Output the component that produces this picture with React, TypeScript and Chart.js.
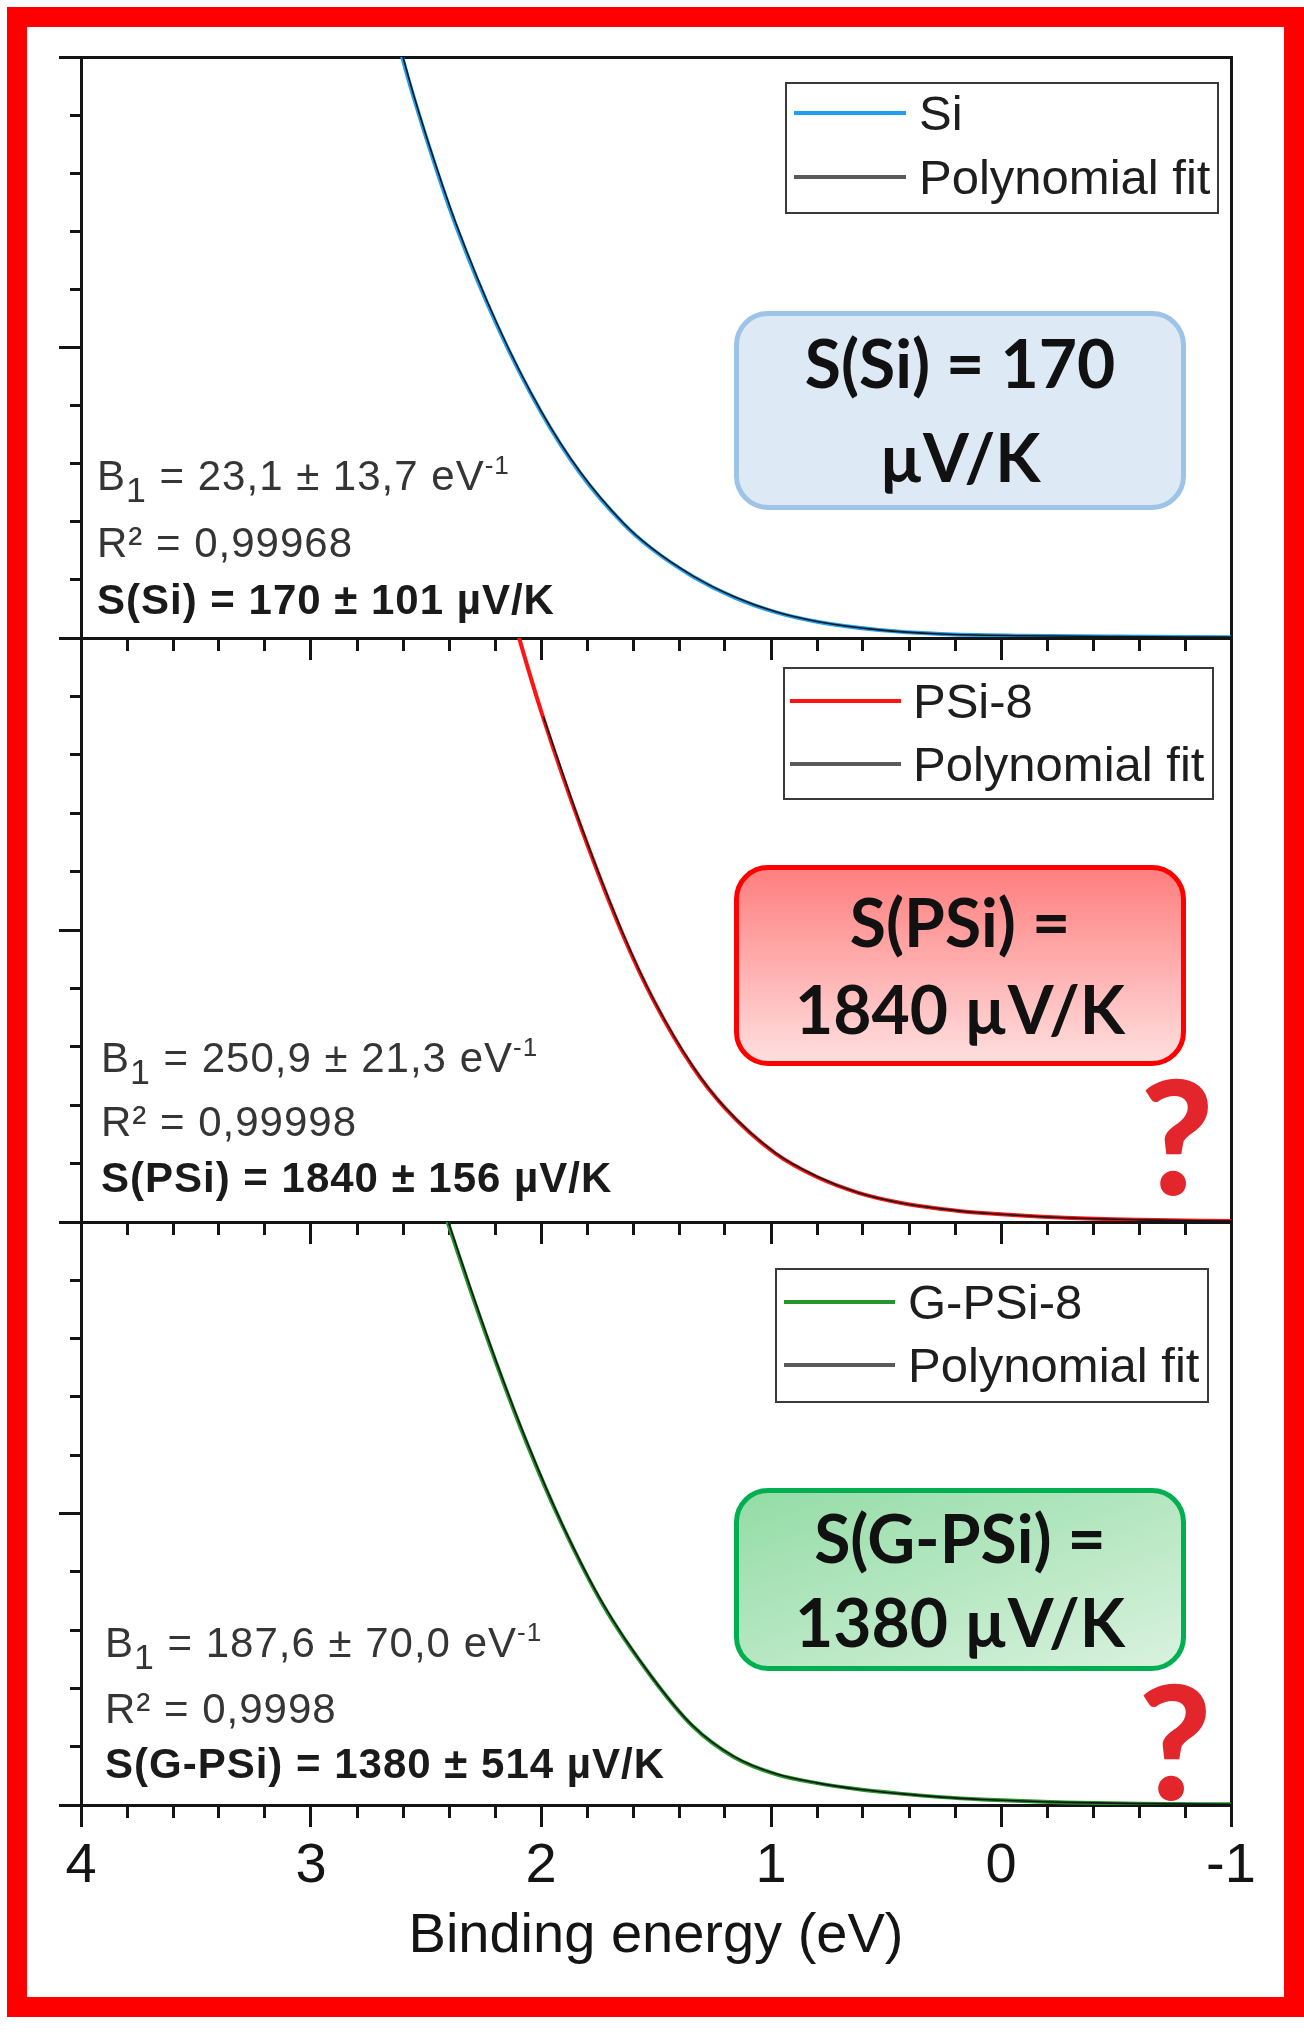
import React, { useEffect, useRef } from 'react';
import { Chart, registerables } from 'chart.js';

Chart.register(...registerables);

// ---------------- data ----------------
const xMajorTicks = [4, 3, 2, 1, 0, -1];
const xTickLabels = ['4', '3', '2', '1', '0', '-1'];
const xMinorDivisions = 5;
const yTickValues = [0, 1, 2, 3, 4, 5, 6, 7, 8, 9, 10];
const yMajorTicks = [0, 5, 10];
const xAxisTitle = 'Binding energy (eV)';

// Si (top panel)
const siEnergy = [2.70, 2.60, 2.55, 2.46, 2.37, 2.19, 2.00, 1.83, 1.64, 1.52, 1.34, 1.16, 0.98, 0.80, 0.53, 0.26, -0.10, -0.50, -1.00];
const siSignal = [11.5, 9.95, 9.26, 8.13, 7.10, 5.37, 3.89, 2.84, 1.96, 1.54, 1.06, 0.70, 0.445, 0.28, 0.138, 0.07, 0.04, 0.025, 0.015];
const siFitEnergy = [2.70, 2.60, 2.55, 2.46, 2.37, 2.19, 2.00, 1.83, 1.64, 1.52, 1.34, 1.16, 0.98, 0.80, 0.53, 0.26, -0.10, -0.50, -1.00];
const siFitSignal = [11.55, 10.0, 9.30, 8.17, 7.14, 5.40, 3.91, 2.86, 1.97, 1.55, 1.07, 0.71, 0.45, 0.285, 0.14, 0.07, 0.04, 0.025, 0.015];

// PSi-8 (middle panel)
const psiEnergy = [2.20, 2.09, 1.99, 1.82, 1.64, 1.51, 1.34, 1.20, 0.98, 0.80, 0.62, 0.44, 0.26, 0.08, -0.28, -0.60, -1.00];
const psiSignal = [11.5, 9.93, 8.63, 6.69, 4.88, 3.79, 2.65, 1.95, 1.17, 0.77, 0.50, 0.33, 0.224, 0.154, 0.072, 0.037, 0.016];
const psiFitEnergy = [1.99, 1.82, 1.64, 1.51, 1.34, 1.20, 0.98, 0.80, 0.62, 0.44, 0.26, 0.08, -0.28, -0.60, -1.00];
const psiFitSignal = [8.66, 6.72, 4.91, 3.81, 2.67, 1.96, 1.18, 0.78, 0.50, 0.33, 0.224, 0.154, 0.072, 0.037, 0.016];

// G-PSi-8 (bottom panel)
const gpsiEnergy = [2.50, 2.40, 2.31, 2.19, 2.06, 1.91, 1.73, 1.52, 1.34, 1.16, 0.98, 0.80, 0.62, 0.44, 0.26, 0.08, -0.28, -0.60, -1.00];
const gpsiSignal = [11.1, 9.93, 8.87, 7.53, 6.19, 4.82, 3.43, 2.20, 1.35, 0.82, 0.53, 0.375, 0.27, 0.195, 0.135, 0.095, 0.045, 0.023, 0.011];
const gpsiFitEnergy = [2.50, 2.40, 2.31, 2.19, 2.06, 1.91, 1.73, 1.52, 1.34, 1.16, 0.98, 0.80, 0.62, 0.44, 0.26, 0.08, -0.28, -0.60, -1.00];
const gpsiFitSignal = [11.15, 9.97, 8.91, 7.56, 6.22, 4.84, 3.45, 2.21, 1.36, 0.83, 0.535, 0.38, 0.27, 0.195, 0.135, 0.095, 0.045, 0.023, 0.011];

// text
const seriesNames = ['Si', 'PSi-8', 'G-PSi-8'];
const fitName = 'Polynomial fit';
const b1Values = ['23,1 ± 13,7', '250,9 ± 21,3', '187,6 ± 70,0'];
const r2Values = ['0,99968', '0,99998', '0,9998'];
const seebeckLines = ['S(Si) = 170 ± 101 µV/K', 'S(PSi) = 1840 ± 156 µV/K', 'S(G-PSi) = 1380 ± 514 µV/K'];
const badgeLines = [
  ['S(Si) = 170', 'µV/K'],
  ['S(PSi) =', '1840 µV/K'],
  ['S(G-PSi) =', '1380 µV/K'],
];

// ---------------- styles / layout ----------------
const FONT_SANS = "'Liberation Sans', Arial, Helvetica, sans-serif";
const FONT_BADGE = "Lato, 'Open Sans', sans-serif";
const seriesColors = ['#1f9ff0', '#ff1414', '#23952b'];
const FIT_COLOR = '#141414';

const panelLayout = [
  { canvasTop: 0, canvasHeight: 660, padTop: 57, padBottom: 22, xAxisHeight: 0, showX: false },
  { canvasTop: 628, canvasHeight: 616, padTop: 10, padBottom: 22, xAxisHeight: 0, showX: false },
  { canvasTop: 1212, canvasHeight: 763, padTop: 10, padBottom: 0, xAxisHeight: 170, showX: true },
];

const seriesData = [
  { e: siEnergy, s: siSignal, fe: siFitEnergy, fs: siFitSignal },
  { e: psiEnergy, s: psiSignal, fe: psiFitEnergy, fs: psiFitSignal },
  { e: gpsiEnergy, s: gpsiSignal, fe: gpsiFitEnergy, fs: gpsiFitSignal },
];

const statsLayout = [
  { left: 97, centers: [476, 543, 600] },
  { left: 101, centers: [1058, 1122, 1178] },
  { left: 105, centers: [1643, 1709, 1764] },
];

const legendLayout = [
  { l: 785, t: 82, r: 1219, b: 214, textLeft: 919, lineL: 794, lineR: 906, rows: [113, 177] },
  { l: 783, t: 667, r: 1214, b: 800, textLeft: 913, lineL: 790, lineR: 901, rows: [701, 764] },
  { l: 775, t: 1268, r: 1209, b: 1403, textLeft: 908, lineL: 784, lineR: 895, rows: [1302, 1365] },
];

const badgeLayout = [
  { l: 734, t: 311, r: 1186, b: 510, border: '#9dc3e6', bg: '#dde9f5', rows: [365, 459] },
  { l: 734, t: 865, r: 1186, b: 1066, border: '#ff0000', bg: 'linear-gradient(180deg, #ff7f7f 0%, #ffb3b3 55%, #ffdede 100%)', rows: [924, 1011] },
  { l: 734, t: 1488, r: 1186, b: 1671, border: '#00b050', bg: 'linear-gradient(160deg, #94dca6 0%, #b9e8c4 55%, #d9f2df 100%)', rows: [1540, 1624] },
];

const questionLayout = [
  { cx: 1177, top: 1082 },
  { cx: 1175, top: 1687 },
];

const near = (a: number, b: number) => Math.abs(a - b) < 1e-6;

function buildXTickValues(): number[] {
  const vals: number[] = [];
  for (let i = 0; i < xMajorTicks.length; i++) {
    vals.push(xMajorTicks[i]);
    if (i < xMajorTicks.length - 1) {
      const a = xMajorTicks[i];
      const b = xMajorTicks[i + 1];
      for (let k = 1; k < xMinorDivisions; k++) vals.push(a + ((b - a) * k) / xMinorDivisions);
    }
  }
  return vals;
}

function makeConfig(idx: number): any {
  const lay = panelLayout[idx];
  const d = seriesData[idx];
  const xTickValues = buildXTickValues();
  const black = '#141414';
  const borderOpts = { display: true, color: black, width: 3 };
  return {
    type: 'line',
    data: {
      datasets: [
        {
          label: fitName,
          data: d.fe.map((x, i) => ({ x, y: d.fs[i] })),
          borderColor: FIT_COLOR,
          borderWidth: 1.6,
          pointRadius: 0,
          cubicInterpolationMode: 'monotone',
          clip: 0,
        },
        {
          label: seriesNames[idx],
          data: d.e.map((x, i) => ({ x, y: d.s[i] })),
          borderColor: seriesColors[idx],
          borderWidth: 4,
          pointRadius: 0,
          cubicInterpolationMode: 'monotone',
          clip: 0,
        },
      ],
    },
    options: {
      animation: false,
      responsive: false,
      maintainAspectRatio: false,
      events: [],
      layout: { padding: { left: 81, right: 73, top: lay.padTop, bottom: lay.padBottom } },
      plugins: { legend: { display: false }, tooltip: { enabled: false }, title: { display: false } },
      scales: {
        x: {
          type: 'linear',
          position: 'bottom',
          min: -1,
          max: 4,
          reverse: true,
          afterBuildTicks: (s: any) => {
            s.ticks = xTickValues.map((v) => ({ value: v }));
          },
          afterFit: (s: any) => {
            s.height = lay.xAxisHeight;
          },
          ticks: {
            display: lay.showX,
            autoSkip: false,
            maxRotation: 0,
            minRotation: 0,
            padding: 12,
            color: black,
            font: { family: FONT_SANS, size: 56, lineHeight: 1 },
            callback: (v: number) => {
              const i = xMajorTicks.findIndex((m) => near(m, v));
              return i >= 0 ? xTickLabels[i] : '';
            },
          },
          grid: {
            drawOnChartArea: false,
            drawTicks: true,
            tickLength: 22,
            tickWidth: 3,
            lineWidth: 3,
            tickColor: black,
            tickBorderDash: (ctx: any) =>
              ctx.tick && xMajorTicks.some((m) => near(m, ctx.tick.value)) ? [] : [11, 100],
          },
          border: borderOpts,
          title: {
            display: lay.showX,
            text: xAxisTitle,
            color: black,
            font: { family: FONT_SANS, size: 56, lineHeight: 1 },
            padding: { top: 0, bottom: 10 },
          },
        },
        xTop: {
          type: 'linear',
          position: 'top',
          min: -1,
          max: 4,
          reverse: true,
          afterFit: (s: any) => {
            s.height = 0;
          },
          ticks: { display: false },
          grid: { drawOnChartArea: false, drawTicks: false, lineWidth: 3 },
          border: borderOpts,
        },
        y: {
          type: 'linear',
          position: 'left',
          min: 0,
          max: 10,
          afterBuildTicks: (s: any) => {
            s.ticks = yTickValues.map((v) => ({ value: v }));
          },
          afterFit: (s: any) => {
            s.width = 0;
          },
          ticks: { display: false },
          grid: {
            drawOnChartArea: false,
            drawTicks: true,
            tickLength: 22,
            tickWidth: 3,
            lineWidth: 3,
            tickColor: black,
            tickBorderDash: (ctx: any) =>
              ctx.tick && yMajorTicks.some((m) => near(m, ctx.tick.value)) ? [] : [0, 11, 11, 100],
          },
          border: borderOpts,
        },
        yRight: {
          type: 'linear',
          position: 'right',
          min: 0,
          max: 10,
          afterFit: (s: any) => {
            s.width = 0;
          },
          ticks: { display: false },
          grid: { drawOnChartArea: false, drawTicks: false, lineWidth: 3 },
          border: borderOpts,
        },
      },
    },
  };
}

function PanelChart({ idx }: { idx: number }) {
  const ref = useRef<HTMLCanvasElement>(null);
  const lay = panelLayout[idx];
  useEffect(() => {
    if (!ref.current) return;
    const chart = new Chart(ref.current, makeConfig(idx));
    return () => chart.destroy();
  }, [idx]);
  return (
    <canvas
      ref={ref}
      width={1304}
      height={lay.canvasHeight}
      style={{ position: 'absolute', left: 0, top: lay.canvasTop, width: 1304, height: lay.canvasHeight, display: 'block' }}
    />
  );
}

const STAT_F = 42;
function Stats({ idx }: { idx: number }) {
  const L = statsLayout[idx];
  const base: React.CSSProperties = {
    position: 'absolute',
    left: L.left,
    fontFamily: FONT_SANS,
    fontSize: STAT_F,
    lineHeight: `${STAT_F}px`,
    letterSpacing: 1,
    whiteSpace: 'nowrap',
  };
  const topFor = (c: number) => c - 0.4885 * STAT_F;
  return (
    <>
      <div style={{ ...base, top: topFor(L.centers[0]), color: '#353535' }}>
        B
        <span style={{ fontSize: '0.85em', position: 'relative', top: 12, lineHeight: 0 }}>1</span>
        {' = ' + b1Values[idx] + ' eV'}
        <span style={{ fontSize: '0.62em', position: 'relative', top: -16, lineHeight: 0 }}>-1</span>
      </div>
      <div style={{ ...base, top: topFor(L.centers[1]), color: '#353535' }}>{'R² = ' + r2Values[idx]}</div>
      <div style={{ ...base, top: topFor(L.centers[2]), color: '#1a1a1a', fontWeight: 700 }}>{seebeckLines[idx]}</div>
    </>
  );
}

const LEG_F = 49;
function Legend({ idx }: { idx: number }) {
  const L = legendLayout[idx];
  const textStyle = (c: number): React.CSSProperties => ({
    position: 'absolute',
    left: L.textLeft,
    top: c - 0.4885 * LEG_F,
    fontFamily: FONT_SANS,
    fontSize: LEG_F,
    lineHeight: `${LEG_F}px`,
    color: '#1e1e1e',
    whiteSpace: 'nowrap',
  });
  const lineStyle = (c: number, color: string): React.CSSProperties => ({
    position: 'absolute',
    left: L.lineL,
    width: L.lineR - L.lineL,
    top: c - 2,
    height: 4,
    background: color,
  });
  return (
    <>
      <div
        style={{
          position: 'absolute',
          left: L.l,
          top: L.t,
          width: L.r - L.l,
          height: L.b - L.t,
          border: '2.5px solid #3a3a3a',
          boxSizing: 'border-box',
          background: '#ffffff',
        }}
      />
      <div style={lineStyle(L.rows[0], seriesColors[idx])} />
      <div style={lineStyle(L.rows[1], '#5a5a5a')} />
      <div style={textStyle(L.rows[0])}>{seriesNames[idx]}</div>
      <div style={textStyle(L.rows[1])}>{fitName}</div>
    </>
  );
}

const BADGE_F = 66;
function Badge({ idx }: { idx: number }) {
  const B = badgeLayout[idx];
  const lineStyle = (c: number): React.CSSProperties => ({
    position: 'absolute',
    left: B.l,
    width: B.r - B.l,
    top: c - 0.529 * BADGE_F,
    textAlign: 'center',
    fontFamily: FONT_BADGE,
    fontWeight: 700,
    fontSize: BADGE_F,
    lineHeight: `${BADGE_F}px`,
    color: '#111111',
    whiteSpace: 'nowrap',
  });
  return (
    <>
      <div
        style={{
          position: 'absolute',
          left: B.l,
          top: B.t,
          width: B.r - B.l,
          height: B.b - B.t,
          border: `5px solid ${B.border}`,
          borderRadius: 34,
          background: B.bg,
          boxSizing: 'border-box',
        }}
      />
      <div style={lineStyle(B.rows[0])}>{badgeLines[idx][0]}</div>
      <div style={lineStyle(B.rows[1])}>{badgeLines[idx][1]}</div>
    </>
  );
}

const Q_F = 158;
function Question({ i }: { i: number }) {
  const Q = questionLayout[i];
  return (
    <div
      style={{
        position: 'absolute',
        left: Q.cx - 60,
        width: 120,
        top: Q.top - 0.1705 * Q_F,
        textAlign: 'center',
        fontFamily: FONT_BADGE,
        fontWeight: 900,
        fontSize: Q_F,
        lineHeight: `${Q_F}px`,
        color: '#e3262b',
      }}
    >
      ?
    </div>
  );
}

export default function App() {
  return (
    <div style={{ position: 'absolute', left: 0, top: 0, width: 1304, height: 2043, background: '#ffffff', overflow: 'hidden' }}>
      <div
        style={{
          position: 'absolute',
          left: 7,
          top: 7,
          width: 1297,
          height: 2010,
          border: '20px solid #ff0000',
          boxSizing: 'border-box',
        }}
      />
      {[0, 1, 2].map((i) => (
        <PanelChart key={'c' + i} idx={i} />
      ))}
      {[0, 1, 2].map((i) => (
        <React.Fragment key={'o' + i}>
          <Stats idx={i} />
          <Legend idx={i} />
          <Badge idx={i} />
        </React.Fragment>
      ))}
      <Question i={0} />
      <Question i={1} />
    </div>
  );
}
